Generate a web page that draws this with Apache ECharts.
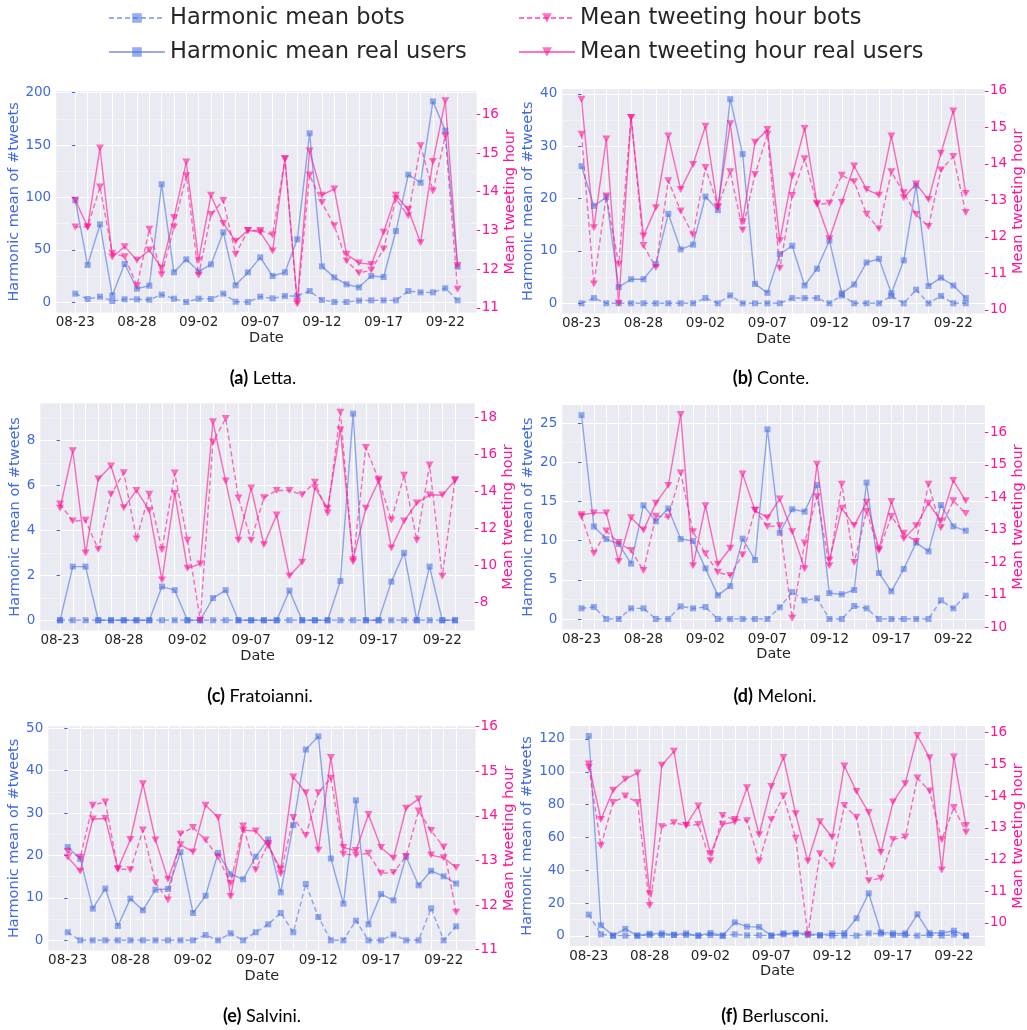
<!DOCTYPE html>
<html><head><meta charset="utf-8">
<script src="https://cdn.jsdelivr.net/npm/echarts@6/dist/echarts.min.js"></script>
<style>html,body{margin:0;padding:0;background:#fff}#c{width:1027px;height:1030px}</style>
</head><body><div id="c"></div>
<script>
// ---------- DATA ----------
const dates = ['08-23','08-24','08-25','08-26','08-27','08-28','08-29','08-30','08-31',
  '09-01','09-02','09-03','09-04','09-05','09-06','09-07','09-08','09-09','09-10','09-11','09-12',
  '09-13','09-14','09-15','09-16','09-17','09-18','09-19','09-20','09-21','09-22','09-23'];
const dateTickLabels = ['08-23','08-28','09-02','09-07','09-12','09-17','09-22'];
const seriesNames = ['Harmonic mean bots','Harmonic mean real users','Mean tweeting hour bots','Mean tweeting hour real users'];
const leftAxisName = 'Harmonic mean of #tweets';
const rightAxisName = 'Mean tweeting hour';
const xAxisName = 'Date';

// (a) Letta
const lettaBotsHM = [8.3,3.2,5.4,1.3,2.9,2.9,2.5,7.3,3.5,0.3,3.5,3.2,8.3,0.6,0.3,5.4,3.8,6.0,6.0,10.8,2.2,0.3,0.3,1.6,1.9,1.9,1.9,10.8,9.5,9.5,13.4,1.9];
const lettaRealHM = [97.3,35.6,74.4,6.7,36.6,13,15.9,112.6,28.6,41,29.3,36.2,66.8,16.2,28.6,42.9,25.1,28.6,60.1,161.2,34.3,23.8,17.2,14.3,25.1,24.2,68,121.8,114.1,191.7,163.8,34];
const lettaBotsHour = [13.09,13.09,14.12,12.41,12.32,11.57,13.03,11.85,13.09,14.41,11.84,13.41,13.77,12.38,13.0,13.0,12.88,14.85,11.1,14.43,13.72,13.12,12.21,11.9,11.97,12.52,13.81,13.38,15.19,14.02,15.44,11.48];
const lettaRealHour = [13.78,13.09,15.13,12.31,12.58,12.23,12.49,12.03,13.33,14.77,12.23,13.91,13.18,12.72,13.0,12.95,12.47,14.85,11.15,15.05,13.91,14.07,12.38,12.16,12.12,12.95,13.91,13.54,12.68,14.78,16.35,12.09];
const lettaLeftTicks = [0,50,100,150,200];
const lettaRightTicks = [11,12,13,14,15,16];

// (b) Conte
const conteBotsHM = [0,1.0,0,0,0,0,0,0,0,0,1.0,0,1.5,0,0,0,0,1,1,1,0,1.5,0,0,0,1.4,0,2.6,0,1.4,0,0];
const conteRealHM = [26.2,18.6,20.3,3.1,4.6,4.6,7.5,17.1,10.3,11.2,20.4,17.8,39,28.5,3.7,2.0,9.4,11.0,3.4,6.6,12.0,1.9,3.6,7.8,8.5,1.9,8.2,22.5,3.3,4.9,3.4,1.0];
const conteBotsHour = [14.81,10.71,13.12,11.25,15.27,11.76,11.16,13.54,12.71,12.05,13.9,12.84,13.78,12.19,13.71,14.81,11.14,13.13,14.14,12.89,12.92,13.69,13.51,12.62,12.22,13.78,13.21,12.61,12.28,13.83,14.2,12.67];
const conteRealHour = [15.77,12.25,14.68,10.18,15.27,12.02,12.8,14.76,13.3,13.98,15.03,12.8,15.1,12.42,14.59,14.94,11.89,13.67,14.97,12.92,11.95,12.95,13.94,13.3,13.14,14.76,13.07,13.45,13.02,14.29,15.45,13.19];
const conteLeftTicks = [0,10,20,30,40];
const conteRightTicks = [10,11,12,13,14,15,16];

// (c) Fratoianni
const fratBotsHM = [0,0,0,0,0,0,0,0,0,0,0,0,0,0,0,0,0,0,0,0,0,0,0,0,0,0,0,0,0,0,0,0];
const fratRealHM = [0,2.39,2.39,0,0,0,0,0,1.5,1.34,0,0,0.99,1.34,0,0,0,0,1.32,0,0,0,1.75,9.2,0,0,1.72,3.0,0,2.39,0,0];
const fratBotsHour = [13.32,12.4,12.44,10.87,13.85,15.02,11.43,13.85,10.85,15.0,11.36,7.03,16.68,17.96,13.65,11.36,13.67,14.06,14.06,13.83,14.5,12.84,18.29,10.2,16.39,14.66,12.46,14.88,11.36,15.44,9.41,14.64];
const fratRealHour = [13.09,16.21,10.67,14.68,15.38,13.13,14.06,12.98,9.21,13.9,9.84,10.08,17.78,14.57,11.36,14.19,11.12,12.73,9.43,10.17,14.21,13.09,17.35,10.31,13.09,14.57,10.94,12.4,13.38,13.81,13.81,14.61];
const fratLeftTicks = [0,2,4,6,8];
const fratRightTicks = [8,10,12,14,16,18];

// (d) Meloni
const meloniBotsHM = [1.36,1.53,0,0,1.36,1.36,0,0,1.62,1.36,1.53,0,0,0,0,0,1.49,3.44,2.38,2.64,0,0,1.66,1.36,0,0,0,0,0,2.38,1.36,2.98];
const meloniRealHM = [26.0,11.8,10.2,9.57,7.06,14.5,12.46,14.1,10.2,9.95,6.46,3.02,4.2,10.25,7.53,24.2,11.0,14.0,13.7,17.1,3.3,3.15,3.7,17.4,5.87,3.53,6.38,9.74,8.63,14.54,11.82,11.27];
const meloniBotsHour = [13.41,12.27,12.96,12.61,12.36,11.75,13.42,13.39,14.75,12.94,12.26,11.69,11.59,12.23,13.61,13.1,13.12,10.28,12.59,14.02,11.89,14.4,11.99,13.56,12.36,13.41,12.89,12.64,14.4,13.06,13.89,13.5];
const meloniRealHour = [13.46,13.52,13.52,12.02,13.37,12.99,13.82,14.36,16.55,11.89,13.74,11.94,12.43,14.72,13.59,13.37,13.95,12.94,11.8,15.02,12.06,13.66,13.13,13.85,12.41,13.87,12.72,13.12,13.82,13.27,14.52,13.89];
const meloniLeftTicks = [0,5,10,15,20,25];
const meloniRightTicks = [10,11,12,13,14,15,16];

// (e) Salvini
const salviniBotsHM = [1.9,0,0,0,0,0,0,0,0,0,0,1.26,0,1.65,0,1.9,3.77,6.45,1.9,13.3,5.5,0,0,4.64,0,0,1.34,0,0,7.55,0,3.3];
const salviniRealHM = [22.0,19.2,7.47,12.2,3.38,9.83,7.08,11.95,12.1,20.8,6.45,10.5,20.6,15.6,14.4,19.73,23.8,11.3,27.2,45.0,48.1,19.3,8.65,33.0,3.77,10.9,9.43,19.73,12.97,16.4,15.1,13.4];
const salviniBotsHour = [13.2,13.07,14.24,14.31,12.81,12.79,13.68,12.5,12.11,13.59,13.74,13.46,13.07,12.49,13.77,12.79,13.38,12.7,13.96,13.56,14.52,14.84,13.14,13.12,13.16,12.71,12.73,13.09,14.11,13.67,13.3,11.84];
const salviniRealHour = [13.07,12.76,13.93,13.94,12.81,13.47,14.72,13.46,12.58,13.35,13.19,14.24,13.96,12.19,13.68,13.66,13.33,12.8,14.87,14.52,13.23,15.31,13.29,13.22,14.03,13.29,13.05,14.17,14.38,13.12,13.06,12.84];
const salviniLeftTicks = [0,10,20,30,40,50];
const salviniRightTicks = [11,12,13,14,15,16];

// (f) Berlusconi
const berlBotsHM = [13.0,1.0,0.2,0.2,0.2,0.6,0.6,0.6,0.6,0.2,0.6,0.2,1.0,0.4,0.4,0.2,1.0,1.0,0.6,0.2,0.2,0.2,0.2,1.6,1.4,0.6,0.6,0.2,0.6,0.2,0.8,0.2];
const berlRealHM = [121.8,6.5,0.2,4.3,0.2,1.4,1.6,0.8,1.6,0.2,1.8,0.2,8.3,5.7,5.5,0.2,1.6,1.8,1.4,0.6,1.6,1.6,10.8,26.0,2.2,1.6,1.6,13.2,1.8,1.8,3.2,0.2];
const berlBotsHour = [14.91,12.43,13.8,14.0,13.8,10.55,13.03,13.16,13.07,13.1,11.96,13.39,13.26,13.22,11.94,13.25,14.0,12.67,9.62,12.18,11.8,13.7,13.33,11.33,11.41,12.63,12.71,14.57,14.16,12.62,13.64,12.86];
const berlRealHour = [15.01,13.26,14.18,14.53,14.73,10.92,14.97,15.41,13.08,13.69,12.18,13.11,13.18,14.26,12.78,14.3,15.22,13.44,11.94,13.19,12.7,14.95,14.14,13.48,12.22,13.81,14.39,15.91,15.21,11.67,15.23,13.07];
const berlLeftTicks = [0,20,40,60,80,100,120];
const berlRightTicks = [10,11,12,13,14,15,16];

const panels = [
  {tag:'(a)', title:'Letta.', botsHM:lettaBotsHM, realHM:lettaRealHM, botsHour:lettaBotsHour, realHour:lettaRealHour, lt:lettaLeftTicks, rt:lettaRightTicks},
  {tag:'(b)', title:'Conte.', botsHM:conteBotsHM, realHM:conteRealHM, botsHour:conteBotsHour, realHour:conteRealHour, lt:conteLeftTicks, rt:conteRightTicks},
  {tag:'(c)', title:'Fratoianni.', botsHM:fratBotsHM, realHM:fratRealHM, botsHour:fratBotsHour, realHour:fratRealHour, lt:fratLeftTicks, rt:fratRightTicks},
  {tag:'(d)', title:'Meloni.', botsHM:meloniBotsHM, realHM:meloniRealHM, botsHour:meloniBotsHour, realHour:meloniRealHour, lt:meloniLeftTicks, rt:meloniRightTicks},
  {tag:'(e)', title:'Salvini.', botsHM:salviniBotsHM, realHM:salviniRealHM, botsHour:salviniBotsHour, realHour:salviniRealHour, lt:salviniLeftTicks, rt:salviniRightTicks},
  {tag:'(f)', title:'Berlusconi.', botsHM:berlBotsHM, realHM:berlRealHM, botsHour:berlBotsHour, realHour:berlRealHour, lt:berlLeftTicks, rt:berlRightTicks}
];

// ---------- LAYOUT / STYLE ----------
const layout = [
  {left:56.2, top:91.3, width:420.5, height:221.1, yL:[-9.6,201.3], yR:[10.88,16.595], sL:50, sR:1, gL:30, gR:22, cap:[263,378]},
  {left:562.3, top:89, width:427.3, height:224.5, yL:[-1.95,40.95], yR:[9.9,16.05], sL:10, sR:1, gL:22, gR:23, cap:[771,378]},
  {left:40.3, top:403.3, width:434.5, height:227.3, yL:[-0.46,9.66], yR:[6.47,18.78], sL:2, sR:2, gL:14.5, gR:23, cap:[260,696]},
  {left:562.3, top:405, width:427.3, height:224.2, yL:[-1.3,27.3], yR:[9.94,16.84], sL:5, sR:1, gL:22, gR:23, cap:[775,696]},
  {left:48.3, top:726.2, width:427.3, height:224.3, yL:[-2.4,50.5], yR:[10.98,16.01], sL:10, sR:1, gL:22.5, gR:23, cap:[262,1016]},
  {left:569.9, top:726, width:420.1, height:220, yL:[-6.1,127.9], yR:[9.27,16.21], sL:20, sR:1, gL:29.5, gR:22.5, cap:[775,1016]}
];

const BLUE_T = '#4169E1', PINK_T = '#FF1493';
const BLUE = 'rgba(65,105,225,0.55)', PINK = 'rgba(255,20,147,0.6)';
const DARK = '#262626';
const FONT = 'DejaVu Sans';
const TRI = 'path://M0,0 L10,0 L5,9 Z';

const grids = [], xAxes = [], yAxes = [], series = [], graphics = [];
const dayIdx = dates.map((d, i) => i);
const labelIdx = dateTickLabels.map(d => dates.indexOf(d));

panels.forEach((p, i) => {
  const L = layout[i];
  grids.push({left:L.left, top:L.top, width:L.width, height:L.height, show:true,
    backgroundColor:'#EAEAF2', borderWidth:0, containLabel:false});
  xAxes.push({type:'value', gridIndex:i, min:-1.55, max:dates.length - 1 + 1.55,
    minInterval:1, maxInterval:1,
    axisLine:{show:false}, axisTick:{show:false, customValues:dayIdx},
    axisLabel:{customValues:labelIdx, formatter:v => dates[Math.round(v)] || '', color:DARK,
      fontSize:13.5, fontFamily:FONT, margin:3},
    splitLine:{show:true, lineStyle:{color:'#ffffff', width:1}},
    name:xAxisName, nameLocation:'middle', nameGap:16,
    nameTextStyle:{color:DARK, fontSize:14.5, fontFamily:FONT}});
  yAxes.push({type:'value', gridIndex:i, position:'left', min:L.yL[0], max:L.yL[1],
    minInterval:L.sL, maxInterval:L.sL,
    axisLine:{show:false},
    axisTick:{show:true, length:3.5, inside:false, lineStyle:{color:BLUE_T, width:1}, customValues:p.lt},
    axisLabel:{customValues:p.lt, color:BLUE_T, fontSize:13.5, fontFamily:FONT, margin:5},
    splitLine:{show:true, lineStyle:{color:'#ffffff', width:1.2}},
    minorTick:{show:false, splitNumber:2},
    minorSplitLine:{show:true, lineStyle:{color:'rgba(255,255,255,0.6)', width:0.7}},
    name:leftAxisName, nameLocation:'middle', nameGap:L.gL,
    nameTextStyle:{color:BLUE_T, fontSize:14.5, fontFamily:FONT}});
  yAxes.push({type:'value', gridIndex:i, position:'right', min:L.yR[0], max:L.yR[1],
    minInterval:L.sR, maxInterval:L.sR,
    axisLine:{show:false},
    axisTick:{show:true, length:3.5, lineStyle:{color:PINK_T, width:1}, customValues:p.rt},
    axisLabel:{customValues:p.rt, color:PINK_T, fontSize:13.5, fontFamily:FONT, margin:5},
    splitLine:{show:false},
    name:rightAxisName, nameLocation:'middle', nameGap:L.gR,
    nameTextStyle:{color:PINK_T, fontSize:14.5, fontFamily:FONT}});

  const pts = arr => arr.map((v, k) => [k, v]);
  series.push({name:seriesNames[0], type:'line', xAxisIndex:i, yAxisIndex:2*i, data:pts(p.botsHM),
    symbol:'rect', symbolSize:6, showAllSymbol:true,
    lineStyle:{color:BLUE, width:1.4, type:[5,3]}, itemStyle:{color:BLUE}, z:2});
  series.push({name:seriesNames[1], type:'line', xAxisIndex:i, yAxisIndex:2*i, data:pts(p.realHM),
    symbol:'rect', symbolSize:6, showAllSymbol:true,
    lineStyle:{color:BLUE, width:1.4}, itemStyle:{color:BLUE}, z:3});
  series.push({name:seriesNames[2], type:'line', xAxisIndex:i, yAxisIndex:2*i+1, data:pts(p.botsHour),
    symbol:TRI, symbolSize:[8,7], showAllSymbol:true,
    lineStyle:{color:PINK, width:1.4, type:[5,3]}, itemStyle:{color:PINK}, z:4});
  series.push({name:seriesNames[3], type:'line', xAxisIndex:i, yAxisIndex:2*i+1, data:pts(p.realHour),
    symbol:TRI, symbolSize:[8,7], showAllSymbol:true,
    lineStyle:{color:PINK, width:1.4}, itemStyle:{color:PINK}, z:5});

  graphics.push({type:'text', x:L.cap[0], y:L.cap[1],
    style:{text:'{b|' + p.tag + '} ' + p.title, align:'center', verticalAlign:'middle',
      font:'18px Lato', fill:'#000',
      rich:{b:{fontWeight:'bold', fontSize:18, fontFamily:'Lato', fill:'#000'}}}});
});

const legendCommon = {orient:'vertical', top:5, padding:0, itemGap:8, itemWidth:56, itemHeight:12,
  textStyle:{fontSize:22.5, fontFamily:FONT, color:DARK, lineHeight:26}};

const option = {
  animation:false,
  backgroundColor:'#ffffff',
  legend:[
    Object.assign({left:108, data:[seriesNames[0], seriesNames[1]]}, legendCommon),
    Object.assign({left:518, data:[seriesNames[2], seriesNames[3]]}, legendCommon)
  ],
  grid:grids, xAxis:xAxes, yAxis:yAxes, series:series, graphic:graphics
};

const chart = echarts.init(document.getElementById('c'), null, {renderer:'canvas', width:1027, height:1030});
chart.setOption(option);
</script>
</body></html>
